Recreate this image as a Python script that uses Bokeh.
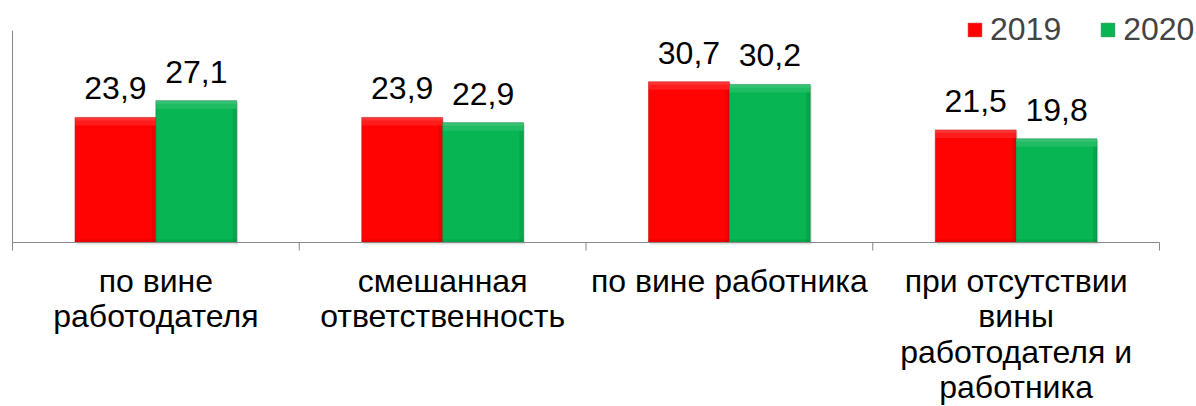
from bokeh.plotting import figure
from bokeh.models import (ColumnDataSource, Range1d, Label, LabelSet, Legend,
                          LegendItem)
from bokeh.core.properties import value
from bokeh.embed import file_html
from bokeh.resources import INLINE

categories = ["по вине\nработодателя",
              "смешанная\nответственность",
              "по вине работника",
              "при отсутствии\nвины\nработодателя и\nработника"]
series_names = ["2019", "2020"]
values_2019 = [23.9, 23.9, 30.7, 21.5]
values_2020 = [27.1, 22.9, 30.2, 19.8]
y_max = 40.5

FONT = "Arial"
FS = "32px"
AXIS_COLOR = "#898989"
BAR_W = 0.282
COLORS = ["#FF0303", "#07B553"]
EDGES = ["#C00000", "#007A38"]

# canvas / plotting-area geometry in pixels
W, H = 1196, 406
PX_LEFT, PX_RIGHT = 12, 1159      # x axis extent
PX_ZERO, PX_TOP = 242, 30         # y=0 and y=y_max
n = len(categories)
sx = (PX_RIGHT - PX_LEFT) / n
sy = (PX_ZERO - PX_TOP) / y_max

p = figure(width=W, height=H, output_backend="svg", toolbar_location=None,
           x_range=Range1d(-PX_LEFT / sx, n + (W - PX_RIGHT) / sx),
           y_range=Range1d(-(H - PX_ZERO) / sy, PX_ZERO / sy),
           x_axis_location=None, y_axis_location=None,
           min_border=0, min_border_left=0, min_border_right=0,
           min_border_top=0, min_border_bottom=0)
p.outline_line_color = None
p.xgrid.visible = False
p.ygrid.visible = False
p.background_fill_color = "white"
p.border_fill_color = "white"

idx = list(range(n))
renderers = []
for k, vals in enumerate((values_2019, values_2020)):
    xs = [i + 0.5 + (k - 0.5) * BAR_W for i in idx]
    src = ColumnDataSource(dict(
        x=xs, top=vals,
        lab=[f"{v:.1f}".replace(".", ",") for v in vals]))
    # soft shadow
    p.vbar(x=[x + 1.5 / sx for x in xs], top=[v - 1.5 / sy for v in vals],
           bottom=-2 / sy, width=BAR_W, fill_color="black", fill_alpha=0.12,
           line_color=None)
    r = p.vbar(x="x", top="top", bottom=0, width=BAR_W, source=src,
               fill_color=COLORS[k], line_color=EDGES[k], line_alpha=0.5)
    renderers.append(r)
    # bevel: highlight on top, darker right and bottom edges
    p.vbar(x=xs, top=vals, bottom=[v - 8 / sy for v in vals], width=BAR_W,
           fill_color="white", fill_alpha=0.1, line_color=None)
    p.vbar(x=xs, top=vals, bottom=[v - 3 / sy for v in vals], width=BAR_W,
           fill_color="white", fill_alpha=0.1, line_color=None)
    p.vbar(x=[x + BAR_W / 2 - 2 / sx for x in xs],
           top=[v - 8 / sy for v in vals], bottom=0, width=4 / sx,
           fill_color="black", fill_alpha=0.08, line_color=None)
    p.vbar(x=xs, top=3 / sy, bottom=0, width=BAR_W,
           fill_color="black", fill_alpha=0.08, line_color=None)
    p.add_layout(LabelSet(x="x", y="top", text="lab", source=src, y_offset=18,
                          text_align="center", text_baseline="alphabetic",
                          text_font=value(FONT), text_font_size=value(FS),
                          text_color=value("black")))

# axes: horizontal baseline with ticks at category boundaries, vertical line
p.segment(x0=[0], y0=[0], x1=[n], y1=[0], line_color=AXIS_COLOR, line_width=1)
p.segment(x0=[0], y0=[0], x1=[0], y1=[y_max], line_color=AXIS_COLOR,
          line_width=1)
bounds = list(range(n + 1))
p.segment(x0=bounds, y0=[0] * (n + 1), x1=bounds, y1=[-8 / sy] * (n + 1),
          line_color=AXIS_COLOR, line_width=1)

# category labels (multi-line, centred under each group)
for i, cat in enumerate(categories):
    for j, line in enumerate(cat.split("\n")):
        p.add_layout(Label(x=i + 0.5, y=0, y_offset=-(38 + j * 35.5),
                           text=line, text_align="center",
                           text_baseline="alphabetic", text_font=FONT,
                           text_font_size=FS, text_color="black"))

legend = Legend(items=[LegendItem(label=series_names[0], renderers=[renderers[0]]),
                       LegendItem(label=series_names[1], renderers=[renderers[1]])],
                location=(966, H - 48), orientation="horizontal",
                glyph_width=17, glyph_height=17, label_standoff=7, spacing=38,
                padding=0, margin=0, border_line_color=None,
                background_fill_alpha=0, label_text_font=FONT,
                label_text_font_size=FS, label_text_baseline="middle")
p.add_layout(legend)

open("out.html", "w").write(file_html(p, INLINE))
